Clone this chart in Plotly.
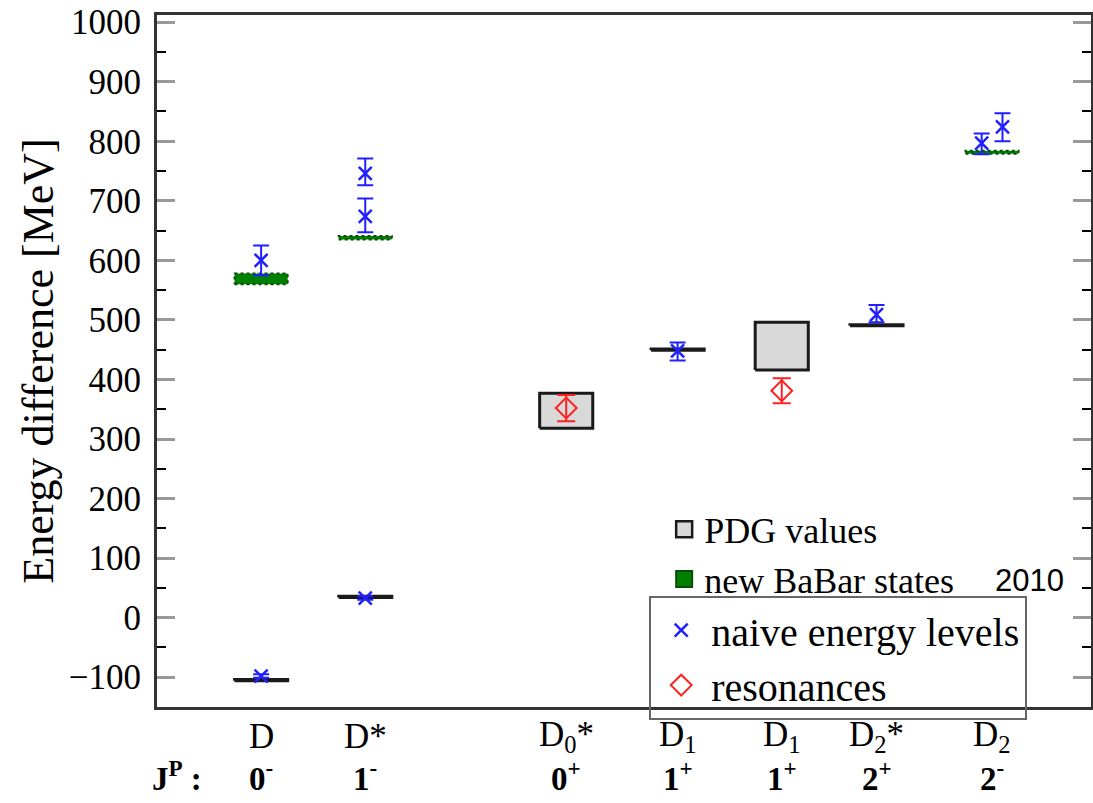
import plotly.graph_objects as go

# ---- data ----
states = ["D", "D*", "D<sub>0</sub>*", "D<sub>1</sub>", "D<sub>1</sub>", "D<sub>2</sub>*", "D<sub>2</sub>"]
jp = ["<b>0<sup>-</sup></b>", "<b>1<sup>-</sup></b>", "<b>0<sup>+</sup></b>", "<b>1<sup>+</sup></b>",
      "<b>1<sup>+</sup></b>", "<b>2<sup>+</sup></b>", "<b>2<sup>-</sup></b>"]
state_x = [1.0, 2.0, 3.93, 5.0, 6.0, 6.91, 8.02]

# PDG values (low, high) per state index
pdg_idx = [0, 1, 2, 3, 4, 5]
pdg_lo = [-106, 34, 318, 449, 416, 490]
pdg_hi = [-104, 36, 377, 451, 496, 492]

# new BaBar states (low, high)
babar_idx = [0, 1, 6]
babar_lo = [560, 635, 779]
babar_hi = [578, 641, 784]

# naive energy levels
naive_x = [1.0, 1.0, 2.0, 2.0, 2.0, 5.0, 6.91, 7.92, 8.12]
naive_y = [-98, 600, 33, 674, 746, 448, 509, 797, 824]
naive_ep = [3, 25, 3, 30, 25, 14, 16, 16, 23]
naive_em = [3, 25, 3, 27, 20, 16, 13, 19, 24]

# resonances
res_x = [3.93, 6.0]
res_y = [352, 381]
res_e = [22, 21]

HALF = 0.255
SERIF = "Liberation Serif"
BLUE = "#1f1fff"
RED = "#ff2020"


def boxes(idx, lo, hi):
    xs, ys = [], []
    for i, a, b in zip(idx, lo, hi):
        c = state_x[i]
        xs += [c - HALF, c + HALF, c + HALF, c - HALF, c - HALF, None]
        ys += [a, a, b, b, a, None]
    return xs, ys


fig = go.Figure()

px_, py_ = boxes(pdg_idx, pdg_lo, pdg_hi)
fig.add_trace(go.Scatter(x=px_, y=py_, mode="lines", fill="toself", fillcolor="#d9d9d9",
                         line=dict(color="#1a1a1a", width=3), name="PDG values", showlegend=False))

bx, by = boxes(babar_idx, babar_lo, babar_hi)
fig.add_trace(go.Scatter(x=bx, y=by, mode="lines", fill="toself", fillcolor="#008000",
                         line=dict(color="#0a4d0a", width=2, dash="dot"), name="new BaBar states",
                         showlegend=False))

# legend-only entries for the box-type series
fig.add_trace(go.Scatter(x=[None], y=[None], mode="markers", name="PDG values", legend="legend",
                         marker=dict(symbol="square", size=24, color="#d9d9d9",
                                     line=dict(color="#1a1a1a", width=2.5))))
fig.add_trace(go.Scatter(x=[None], y=[None], mode="markers", name="new BaBar states", legend="legend",
                         marker=dict(symbol="square", size=24, color="#008000",
                                     line=dict(color="#0a4d0a", width=2))))

fig.add_trace(go.Scatter(x=naive_x, y=naive_y, mode="markers", name="naive energy levels",
                         marker=dict(symbol="x-thin", size=13, line=dict(color=BLUE, width=2.5)),
                         error_y=dict(type="data", symmetric=False, array=naive_ep, arrayminus=naive_em,
                                      color=BLUE, thickness=2, width=8),
                         legend="legend2"))

fig.add_trace(go.Scatter(x=res_x, y=res_y, mode="markers", name="resonances",
                         marker=dict(symbol="diamond-open", size=16, color=RED, line=dict(width=2)),
                         error_y=dict(type="data", array=res_e, color=RED, thickness=2, width=9),
                         legend="legend2"))

# x labels
for x, s, j in zip(state_x, states, jp):
    fig.add_annotation(x=x, y=-0.043, xref="x", yref="paper", text=s, showarrow=False,
                       font=dict(family=SERIF, size=35, color="black"), yanchor="middle")
    fig.add_annotation(x=x, y=-0.099, xref="x", yref="paper", text=j, showarrow=False,
                       font=dict(family=SERIF, size=33, color="black"), yanchor="middle")
fig.add_annotation(x=0.19, y=-0.099, xref="x", yref="paper", text="<b>J<sup>P</sup> :</b>", showarrow=False,
                   font=dict(family=SERIF, size=33, color="black"), yanchor="middle")

fig.add_annotation(x=0.934, y=0.1835, xref="paper", yref="paper", text="2010", showarrow=False,
                   xanchor="center", yanchor="middle",
                   font=dict(family="Liberation Sans", size=31, color="black"))

fig.update_xaxes(range=[0, 8.97], showline=True, linewidth=3, linecolor="#333", mirror=True,
                 showticklabels=False, ticks="", showgrid=False, zeroline=False)
fig.update_yaxes(range=[-150, 1012], tick0=0, dtick=100, showline=True, linewidth=3, linecolor="#333",
                 mirror="allticks", ticks="inside", ticklen=18, tickwidth=3, tickcolor="#999",
                 minor=dict(dtick=50, ticks="inside", ticklen=9, tickwidth=2, tickcolor="black"),
                 showgrid=False, zeroline=False, automargin=False, ticklabelstandoff=6,
                 tickfont=dict(family=SERIF, size=35, color="black"),
                 title=dict(text="Energy difference [MeV]", font=dict(family=SERIF, size=44, color="black"),
                            standoff=2))

fig.update_layout(
    width=1093, height=803, margin=dict(l=157, r=2, t=15, b=96),
    plot_bgcolor="white", paper_bgcolor="white",
    legend=dict(x=0.543, y=0.30, xanchor="left", yanchor="top", bgcolor="rgba(0,0,0,0)",
                font=dict(family=SERIF, size=36, color="black"), itemwidth=30, borderwidth=0),
    legend2=dict(x=0.527, y=0.161, xanchor="left", yanchor="top", bgcolor="rgba(255,255,255,0)",
                 bordercolor="#666", borderwidth=2,
                 font=dict(family=SERIF, size=40, color="black"), itemwidth=50),
)

fig.write_html("out.html")
